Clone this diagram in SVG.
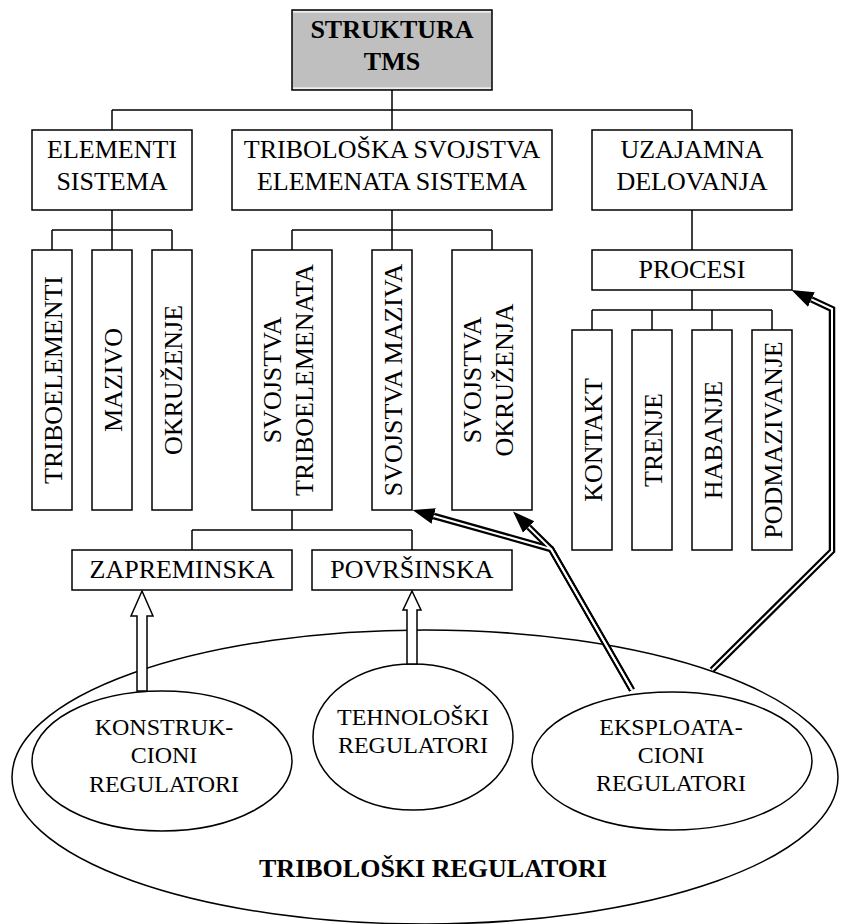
<svg xmlns="http://www.w3.org/2000/svg" width="842" height="924" viewBox="0 0 842 924" font-family="'Liberation Serif', 'Times New Roman', serif">
<defs>
<style>
.box{fill:#fff;stroke:#000;stroke-width:1.5}
.top{fill:#bfbfbf;stroke:#000;stroke-width:1.5}
.hl{stroke:#fff;stroke-width:1.2}
.con{fill:none;stroke:#000;stroke-width:1.5}
.ell{fill:#fff;stroke:#000;stroke-width:1.5}
.big{fill:none;stroke:#000;stroke-width:1.5}
.dbl{fill:none;stroke:#000;stroke-width:6.5;stroke-linejoin:miter}
.dbli{fill:none;stroke:#fff;stroke-width:2;stroke-linejoin:miter}
.hol{fill:#fff;stroke:#000;stroke-width:1.5;stroke-linejoin:miter}
text{font-family:'Liberation Serif','Times New Roman',serif;font-size:26px;fill:#000;text-anchor:middle}
.b{font-weight:bold}
.s{font-size:24px}
</style>
<marker id="ah" markerUnits="userSpaceOnUse" viewBox="0 0 22 18" markerWidth="22" markerHeight="18" refX="0" refY="9" orient="auto">
<path d="M0,1 L22,9 L0,17 Z" fill="#000"/>
</marker>
</defs>

<g id="regulatori">
<ellipse class="big" cx="425" cy="777" rx="413" ry="147"/>
<text class="b" x="433" y="877">TRIBOLOŠKI REGULATORI</text>
</g>

<g id="connectors">
<path class="con" d="M392,90 V110 M112,110 H692 M112,110 V130 M392,110 V130 M692,110 V130"/>
<path class="con" d="M112,210 V230 M52,230 H172 M52,230 V250 M112,230 V250 M172,230 V250"/>
<path class="con" d="M392,210 V230 M292,230 H492 M292,230 V250 M392,230 V250 M492,230 V250"/>
<path class="con" d="M292,510 V530 M192,530 H412 M192,530 V550 M412,530 V550"/>
<path class="con" d="M692,210 V250 M692,290 V310 M592,310 H772 M592,310 V330 M652,310 V330 M712,310 V330 M772,310 V330"/>
</g>

<g id="struktura">
<rect class="top" x="292" y="10" width="200" height="80"/>
<path class="hl" d="M293,11.8 H491 M293,88.2 H491"/>
<text class="b" x="392" y="38">STRUKTURA</text>
<text class="b" x="392" y="70">TMS</text>
</g>

<g id="elementi">
<rect class="box" x="32" y="130" width="160" height="80"/>
<text x="112" y="158">ELEMENTI</text>
<text x="112" y="190">SISTEMA</text>
</g>
<g id="triboloska">
<rect class="box" x="232" y="130" width="320" height="80"/>
<text x="392" y="158">TRIBOLOŠKA SVOJSTVA</text>
<text x="392" y="190">ELEMENATA SISTEMA</text>
</g>
<g id="uzajamna">
<rect class="box" x="592" y="130" width="200" height="80"/>
<text x="692" y="158">UZAJAMNA</text>
<text x="692" y="190">DELOVANJA</text>
</g>

<g id="triboelementi">
<rect class="box" x="32" y="250" width="40" height="260"/>
<text transform="translate(52,380) rotate(-90)" x="0" y="9.5">TRIBOELEMENTI</text>
</g>
<g id="mazivo">
<rect class="box" x="92" y="250" width="40" height="260"/>
<text transform="translate(112,380) rotate(-90)" x="0" y="9.5">MAZIVO</text>
</g>
<g id="okruzenje">
<rect class="box" x="152" y="250" width="40" height="260"/>
<text transform="translate(172,380) rotate(-90)" x="0" y="9.5">OKRUŽENJE</text>
</g>

<g id="svojstva-triboelemenata">
<rect class="box" x="252" y="250" width="80" height="260"/>
<text transform="translate(292,380) rotate(-90)" x="0" y="-11.5">SVOJSTVA</text>
<text transform="translate(292,380) rotate(-90)" x="0" y="21">TRIBOELEMENATA</text>
</g>
<g id="svojstva-maziva">
<rect class="box" x="372" y="250" width="40" height="260"/>
<text transform="translate(392,380) rotate(-90)" x="0" y="9.5">SVOJSTVA MAZIVA</text>
</g>
<g id="svojstva-okruzenja">
<rect class="box" x="452" y="250" width="80" height="260"/>
<text transform="translate(492,380) rotate(-90)" x="0" y="-11.5">SVOJSTVA</text>
<text transform="translate(492,380) rotate(-90)" x="0" y="21">OKRUŽENJA</text>
</g>

<g id="zapreminska">
<rect class="box" x="72" y="550" width="220" height="40"/>
<text x="182" y="578">ZAPREMINSKA</text>
</g>
<g id="povrsinska">
<rect class="box" x="312" y="550" width="200" height="40"/>
<text x="412" y="578">POVRŠINSKA</text>
</g>

<g id="procesi">
<rect class="box" x="592" y="250" width="200" height="40"/>
<text x="692" y="278">PROCESI</text>
</g>
<g id="kontakt">
<rect class="box" x="572" y="330" width="40" height="220"/>
<text transform="translate(592,440) rotate(-90)" x="0" y="9.5">KONTAKT</text>
</g>
<g id="trenje">
<rect class="box" x="632" y="330" width="40" height="220"/>
<text transform="translate(652,440) rotate(-90)" x="0" y="9.5">TRENJE</text>
</g>
<g id="habanje">
<rect class="box" x="692" y="330" width="40" height="220"/>
<text transform="translate(712,440) rotate(-90)" x="0" y="9.5">HABANJE</text>
</g>
<g id="podmazivanje">
<rect class="box" x="752" y="330" width="40" height="220"/>
<text transform="translate(772,440) rotate(-90)" x="0" y="9.5">PODMAZIVANJE</text>
</g>

<g id="konstrukcioni">
<ellipse class="ell" cx="162" cy="761" rx="130" ry="70"/>
<text class="s" x="164" y="735">KONSTRUK-</text>
<text class="s" x="164" y="763">CIONI</text>
<text class="s" x="164" y="792">REGULATORI</text>
</g>
<g id="tehnoloski">
<ellipse class="ell" cx="413" cy="737" rx="100" ry="73"/>
<text class="s" x="413" y="725">TEHNOLOŠKI</text>
<text class="s" x="413" y="753">REGULATORI</text>
</g>
<g id="eksploatacioni">
<ellipse class="ell" cx="672" cy="761" rx="140" ry="69"/>
<text class="s" x="671" y="735">EKSPLOATA-</text>
<text class="s" x="671" y="763">CIONI</text>
<text class="s" x="671" y="791">REGULATORI</text>
</g>

<g id="arrows">
<polygon class="hol" points="142,591 153,616 147,616 147,691 137,691 137,616 131,616"/>
<polygon class="hol" points="412,591 421,610 417,610 417,664 407,664 407,610 403,610"/>
<path class="dbl" d="M632,690 L551,549 L433.7,516" marker-end="url(#ah)"/>
<path class="dbl" d="M632,690 L551,549 L528.7,527" marker-end="url(#ah)"/>
<path class="dbl" d="M712,670 L832,551 L832,309 L811.4,299.4" marker-end="url(#ah)"/>
<path class="dbli" d="M632,690 L551,549 L433.7,516"/>
<path class="dbli" d="M632,690 L551,549 L528.7,527"/>
<path class="dbli" d="M712,670 L832,551 L832,309 L811.4,299.4"/>
</g>
</svg>
